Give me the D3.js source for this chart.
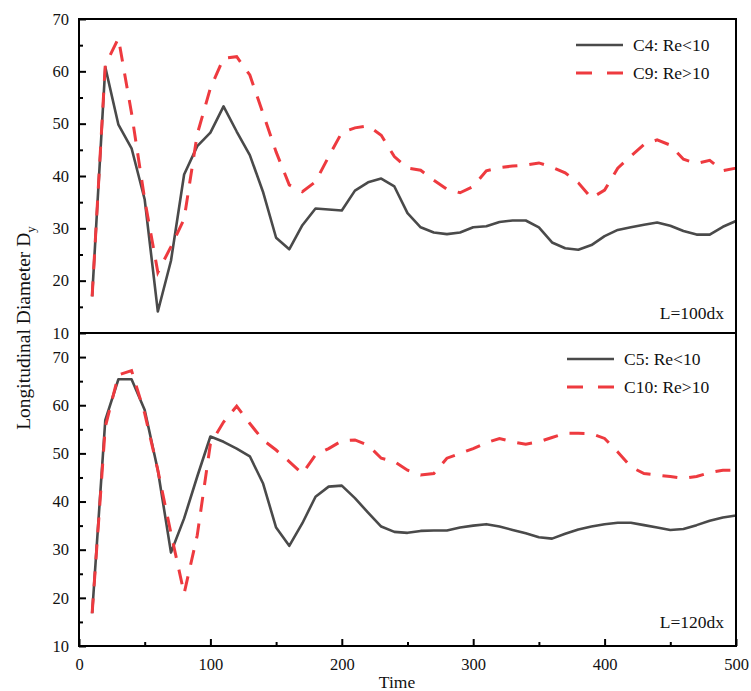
<!DOCTYPE html>
<html>
<head>
<meta charset="utf-8">
<script src="https://cdn.jsdelivr.net/npm/d3@7"></script>
<style>
  body { margin: 0; background: #fff; }
  text { font-family: "Liberation Serif", "Times New Roman", serif; fill: #111; }
</style>
</head>
<body>
<div id="vis"></div>
<script>
const FRAME_WIDTH = 751;
const FRAME_HEIGHT = 691;
const LEFT = 79, RIGHT = 736;

// time axis (shared)
const TIME = [10, 20, 30, 40, 50, 60, 70, 80, 90, 100,
  110, 120, 130, 140, 150, 160, 170, 180, 190, 200,
  210, 220, 230, 240, 250, 260, 270, 280, 290, 300,
  310, 320, 330, 340, 350, 360, 370, 380, 390, 400,
  410, 420, 430, 440, 450, 460, 470, 480, 490, 500];

// top panel, L=100dx
const C4 = [17, 60.8, 49.8, 45.3, 35.5, 14.1, 23.8, 40.3, 45.7, 48.3,
  53.3, 48.5, 44.0, 37.0, 28.2, 26.0, 30.6, 33.8, 33.6, 33.4,
  37.2, 38.8, 39.5, 38.0, 32.9, 30.2, 29.2, 28.9, 29.2, 30.2,
  30.4, 31.2, 31.5, 31.5, 30.2, 27.3, 26.2, 25.9, 26.8, 28.5,
  29.7, 30.2, 30.7, 31.1, 30.5, 29.5, 28.8, 28.8, 30.3, 31.4];
const C9 = [17, 61.2, 66.3, 52.0, 35.5, 21.6, 26.5, 31.8, 48.0, 56.8,
  62.5, 62.8, 59.3, 52.0, 44.6, 38.3, 37.0, 38.9, 43.7, 48.3,
  49.2, 49.6, 47.8, 43.7, 41.5, 41.1, 39.2, 37.5, 36.8, 38.0,
  41.0, 41.6, 41.9, 42.1, 42.5, 41.7, 40.6, 38.7, 35.8, 37.3,
  41.5, 43.8, 46.0, 46.9, 45.9, 43.2, 42.4, 43.0, 41.0, 41.5];

// bottom panel, L=120dx
const C5 = [16.8, 56.9, 65.4, 65.4, 59.0, 46.5, 29.4, 36.5, 45.2, 53.5,
  52.4, 51.0, 49.4, 43.8, 34.6, 30.8, 35.5, 41.0, 43.1, 43.3,
  40.7, 37.7, 34.8, 33.7, 33.5, 33.9, 34.0, 34.0, 34.6, 35.0,
  35.3, 34.8, 34.1, 33.4, 32.6, 32.3, 33.3, 34.2, 34.8, 35.3,
  35.6, 35.6, 35.1, 34.6, 34.1, 34.3, 35.1, 36.0, 36.7, 37.1];
const C10 = [16.8, 55.5, 66.3, 67.2, 58.3, 46.5, 33.4, 20.9, 33.0, 52.0,
  56.5, 59.8, 56.2, 52.8, 50.7, 48.3, 45.8, 49.7, 51.0, 52.6,
  52.8, 51.7, 49.0, 48.3, 46.5, 45.5, 45.8, 49.0, 50.0, 51.0,
  52.2, 53.1, 52.4, 51.9, 52.4, 53.3, 54.2, 54.2, 54.1, 53.1,
  50.3, 47.2, 45.8, 45.5, 45.2, 44.8, 45.2, 46.0, 46.5, 46.5];

const X_TICKS = [0, 100, 200, 300, 400, 500];
const X_MINOR = [50, 150, 250, 350, 450];
const Y_TICKS = [10, 20, 30, 40, 50, 60, 70];
const Y_MINOR = [15, 25, 35, 45, 55, 65];

const DARK = "#4a4a4a";
const RED = "#ee3a3f";

const svg = d3.select("#vis")
    .append("svg")
    .attr("width", FRAME_WIDTH)
    .attr("height", FRAME_HEIGHT);

const X_SCALE = d3.scaleLinear().domain([0, 500]).range([LEFT, RIGHT]);

const panels = [
  {top: 19, bottom: 333, domain: [10, 70], solid: C4, dashed: C9,
   names: ["C4: Re<10", "C9: Re>10"], label: "L=100dx",
   legendY: 45, legendX: 576, labelY: 319},
  {top: 333, bottom: 646, domain: [10, 75], solid: C5, dashed: C10,
   names: ["C5: Re<10", "C10: Re>10"], label: "L=120dx",
   legendY: 359, legendX: 567, labelY: 628}
];

panels.forEach((p, i) => {
  const Y_SCALE = d3.scaleLinear().domain(p.domain).range([p.bottom, p.top]);

  const line = d3.line()
      .x((d, j) => X_SCALE(TIME[j]))
      .y(d => Y_SCALE(d));

  svg.append("path")
      .datum(p.solid)
      .attr("d", line)
      .attr("fill", "none")
      .attr("stroke", DARK)
      .attr("stroke-width", 2.6)
      .attr("stroke-linejoin", "round");

  svg.append("path")
      .datum(p.dashed)
      .attr("d", line)
      .attr("fill", "none")
      .attr("stroke", RED)
      .attr("stroke-width", 3)
      .attr("stroke-dasharray", "15,12");

  // y axis, ticks inward
  const yAxis = svg.append("g")
      .attr("transform", "translate(" + LEFT + ",0)")
      .call(d3.axisLeft(Y_SCALE).tickValues(Y_TICKS).tickSize(-7).tickPadding(10));
  yAxis.select(".domain").remove();
  yAxis.selectAll("text").style("font-size", "16.5px").style("font-family", "Liberation Serif");
  yAxis.selectAll("line").attr("stroke", "#000").attr("stroke-width", 2);

  const yMinor = svg.append("g")
      .attr("transform", "translate(" + LEFT + ",0)")
      .call(d3.axisLeft(Y_SCALE).tickValues(Y_MINOR).tickSize(-4).tickFormat(""));
  yMinor.select(".domain").remove();
  yMinor.selectAll("line").attr("stroke", "#000").attr("stroke-width", 2);

  // frame
  svg.append("rect")
      .attr("x", LEFT)
      .attr("y", p.top)
      .attr("width", RIGHT - LEFT)
      .attr("height", p.bottom - p.top)
      .attr("fill", "none")
      .attr("stroke", "#000")
      .attr("stroke-width", 2);

  // legend
  const names = p.names;
  names.forEach((n, k) => {
    const ly = p.legendY + k * 28;
    svg.append("line")
        .attr("x1", p.legendX)
        .attr("x2", p.legendX + 47)
        .attr("y1", ly)
        .attr("y2", ly)
        .attr("stroke", k === 0 ? DARK : RED)
        .attr("stroke-width", k === 0 ? 2.6 : 3)
        .attr("stroke-dasharray", k === 0 ? null : "16,15");
    svg.append("text")
        .attr("x", p.legendX + 57)
        .attr("y", ly + 6)
        .style("font-size", "17.5px")
        .text(n);
  });

  svg.append("text")
      .attr("x", 724)
      .attr("y", p.labelY)
      .attr("text-anchor", "end")
      .style("font-size", "17.5px")
      .text(p.label);
});

// x axis at the bottom of the lower panel
const xAxis = svg.append("g")
    .attr("transform", "translate(0,646)")
    .call(d3.axisBottom(X_SCALE).tickValues(X_TICKS).tickSize(-7).tickPadding(12));
xAxis.select(".domain").remove();
xAxis.selectAll("text").style("font-size", "16.5px").style("font-family", "Liberation Serif");
xAxis.selectAll("line").attr("stroke", "#000").attr("stroke-width", 2);

const xMinor = svg.append("g")
    .attr("transform", "translate(0,646)")
    .call(d3.axisBottom(X_SCALE).tickValues(X_MINOR).tickSize(-4).tickFormat(""));
xMinor.select(".domain").remove();
xMinor.selectAll("line").attr("stroke", "#000").attr("stroke-width", 2);

// axis titles
svg.append("text")
    .attr("x", 397)
    .attr("y", 688)
    .attr("text-anchor", "middle")
    .style("font-size", "17.5px")
    .text("Time");

const yTitle = svg.append("text")
    .attr("transform", "translate(30,328) rotate(-90)")
    .attr("text-anchor", "middle")
    .style("font-size", "19.5px");
yTitle.append("tspan").text("Longitudinal Diameter D");
yTitle.append("tspan").attr("dy", 5).style("font-size", "13px").text("y");
</script>
</body>
</html>
